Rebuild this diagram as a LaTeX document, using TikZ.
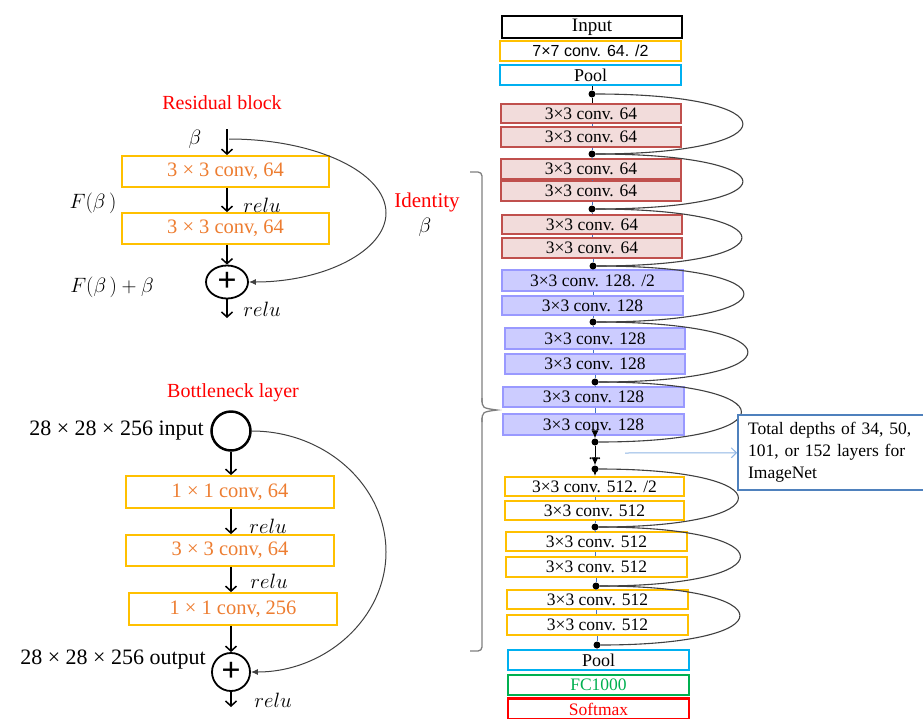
\documentclass[tikz,border=0pt]{standalone}
\usepackage{fontspec}
\setmainfont{Liberation Serif}
\newfontfamily\arialf{Liberation Sans}
\usetikzlibrary{arrows.meta,shapes.geometric}
\definecolor{ybox}{HTML}{FFC000}
\definecolor{otext}{HTML}{ED7D31}
\definecolor{cyanb}{HTML}{00B0F0}
\definecolor{redB}{HTML}{C0504D}
\definecolor{redF}{HTML}{F2DCDB}
\definecolor{blueB}{HTML}{9999FF}
\definecolor{blueF}{HTML}{CCCCFF}
\definecolor{greenb}{HTML}{00B050}
\definecolor{tboxb}{HTML}{4F81BD}
\definecolor{lblue}{HTML}{8EB4E3}
\definecolor{connb}{HTML}{4472C4}
\definecolor{skipc}{HTML}{404040}
\definecolor{bracec}{HTML}{7F7F7F}
\begin{document}
\begin{tikzpicture}[x=1pt,y=-1pt,
  rcol/.style={draw, minimum width=180, minimum height=20, inner sep=0, line width=2.2, font=\fontsize{17.5}{20}\selectfont},
  redb/.style={rcol, draw=redB, fill=redF},
  blueb/.style={rcol, draw=blueB, fill=blueF},
  yelb/.style={rcol, draw=ybox, fill=white},
  lbox/.style={draw=ybox, line width=1.8, text=otext, inner sep=0, minimum width=207, minimum height=31, font=\fontsize{20.5}{24}\selectfont},
  ttl/.style={text=red, inner sep=0, font=\fontsize{20}{24}\selectfont},
  lbl/.style={inner sep=0, font=\fontsize{20}{24}\selectfont},
  arr/.style={line width=1.5, -{Straight Barb[length=5pt,width=11pt,line width=1.5pt]}},
  skip/.style={draw=skipc, line width=1, -{Latex[length=7pt,width=6pt]}},
  rskip/.style={draw=skipc, line width=1.1},
  dotn/.style={circle, fill=black, inner sep=0, minimum size=7},
  conn/.style={draw=connb, line width=0.6},
  sarr/.style={line width=1, -{Latex[length=8pt,width=7pt]}},
  plusn/.style={draw, line width=1.8, inner sep=0, font=\fontsize{34}{34}\selectfont\bfseries}
]
\useasboundingbox (0,0) rectangle (923,718);

% ---------------- Residual block ----------------
\node[ttl] (t1) at (222,103) {Residual block};
\node[lbl] (beta1) at (195,139) {$\beta$};
\coordinate (in1) at (227,129);
\node[lbox] (a1) at (225.5,171.5) {3 × 3 conv, 64};
\node[lbox] (a2) at (225.5,228.5) {3 × 3 conv, 64};
\node[plusn, ellipse, minimum width=42, minimum height=33] (p1) at (227,282) {+};
\coordinate (out1) at (227,318);
\draw[arr] (in1) -- (in1 |- a1.north);
\draw[arr] (a1.south -| in1) -- (a2.north -| in1);
\draw[arr] (a2.south -| in1) -- (p1.north);
\draw[arr] (p1.south) -- (out1);
\node[lbl] (r1l) at (262,205) {$relu$};
\node[lbl] (r2l) at (262,309) {$relu$};
\node[lbl] (fb) at (93,203) {$F(\beta\,)$};
\node[lbl] (fbb) at (112,287) {$F(\beta\,)+\beta$};
\coordinate (s1) at (229,139);
\coordinate (m1) at (386,213);
\draw[skip] (s1) .. controls +(86,0) and +(0,-41) .. (m1) .. controls +(0,38) and +(75,0) .. (p1.east);
\node[ttl, font=\fontsize{21}{24}\selectfont] (ident) at (427,202) {Identity};
\node[lbl] (identb) at (425,227) {$\beta$};

% ---------------- Bottleneck ----------------
\node[ttl] (t2) at (233,393) {Bottleneck layer};
\node[draw, circle, line width=2.5, minimum size=39, inner sep=0] (c2) at (231,431) {};
\node[lbl, anchor=east, font=\fontsize{22}{24}\selectfont] (inl) at (204,431) {28 × 28 × 256 input};
\node[lbox, minimum width=208, minimum height=32] (b1) at (230,492) {1 × 1 conv, 64};
\node[lbox, minimum width=208, minimum height=31] (b2) at (230,550.5) {3 × 3 conv, 64};
\node[lbox, minimum width=208, minimum height=32] (b3) at (233,609) {1 × 1 conv, 256};
\node[plusn, circle, minimum size=38] (p2) at (231,672) {+};
\node[lbl, anchor=east, font=\fontsize{22}{24}\selectfont] (outl) at (206,660) {28 × 28 × 256 output};
\coordinate (out2) at (231,707);
\draw[arr] (c2.south) -- (c2.south |- b1.north);
\draw[arr] (b1.south -| c2) -- (b2.north -| c2);
\draw[arr] (b2.south -| c2) -- (b3.north -| c2);
\draw[arr] (b3.south -| c2) -- (p2.north);
\draw[arr] (p2.south) -- (out2);
\node[lbl] (r3l) at (268,526) {$relu$};
\node[lbl] (r4l) at (269,581) {$relu$};
\node[lbl] (r5l) at (273,700) {$relu$};
\coordinate (m2) at (386,552);
\draw[skip] (c2.east) .. controls +(74,0) and +(0,-66) .. (m2) .. controls +(0,66) and +(75,0) .. (p2.east);

% ---------------- Brace ----------------
\draw[bracec, line width=1.3, rounded corners=4] (470,172) -- (482,172) -- (482,402);
\draw[bracec, line width=1.3] (482,398) .. controls (482,408) .. (497,410) .. controls (482,412) .. (482,422);
\draw[bracec, line width=1.3, rounded corners=4] (482,418) -- (482,651) -- (470,651);

% ---------------- ResNet column ----------------
\node[rcol, line width=2.8, minimum width=180, minimum height=22, font=\fontsize{19}{20}\selectfont] (inp) at (592,27) {Input};
\node[yelb, minimum width=181, font=\arialf\fontsize{16}{20}\selectfont] (c7) at (590.5,51) {7×7 conv. 64. /2};
\node[rcol, draw=cyanb, minimum width=181, font=\fontsize{18}{20}\selectfont] (pool1) at (590.5,75) {Pool};

\node[redb, minimum height=19] (q1) at (591,113.5) {3×3 conv. 64};
\node[redb] (q2) at (591,137) {3×3 conv. 64};
\node[redb] (q3) at (591,169) {3×3 conv. 64};
\node[redb] (q4) at (591,191) {3×3 conv. 64};
\node[redb, minimum height=19] (q5) at (592,224.5) {3×3 conv. 64};
\node[redb] (q6) at (592,248) {3×3 conv. 64};

\node[blueb, minimum width=181, minimum height=21] (u1) at (592.5,280.5) {3×3 conv. 128. /2};
\node[blueb, minimum width=181, minimum height=19] (u2) at (592.5,305.5) {3×3 conv. 128};
\node[blueb, minimum height=21] (u3) at (595,338.5) {3×3 conv. 128};
\node[blueb] (u4) at (595,364) {3×3 conv. 128};
\node[blueb, minimum width=181] (u5) at (593.5,397) {3×3 conv. 128};
\node[blueb, minimum width=181, minimum height=21] (u6) at (593.5,424.5) {3×3 conv. 128};

\node[yelb, minimum width=179, minimum height=19] (o1) at (594.5,486.5) {3×3 conv. 512. /2};
\node[yelb, minimum width=179, minimum height=19] (o2) at (594.5,510.5) {3×3 conv. 512};
\node[yelb, minimum width=181, minimum height=19] (o3) at (596.5,541.5) {3×3 conv. 512};
\node[yelb, minimum width=181] (o4) at (596.5,567) {3×3 conv. 512};
\node[yelb, minimum width=181, minimum height=19] (o5) at (597.5,599.5) {3×3 conv. 512};
\node[yelb, minimum width=181] (o6) at (597.5,625) {3×3 conv. 512};

\node[rcol, draw=cyanb, minimum width=181, font=\fontsize{18}{20}\selectfont] (pool2) at (598.5,660) {Pool};
\node[rcol, draw=greenb, text=greenb, minimum width=181] (fc) at (598.5,685) {FC1000};
\node[rcol, draw=red, text=red, minimum width=181, minimum height=21, font=\fontsize{17.5}{20}\selectfont] (sm) at (598.5,709) {Softmax};

% dots
\node[dotn] (d0) at (592,94) {};
\node[dotn] (d1) at (592,154) {};
\node[dotn] (d2) at (592,209) {};
\node[dotn] (d3) at (593,266) {};
\node[dotn] (d4) at (593,322) {};
\node[dotn] (d5) at (595,382) {};
\node[dotn] (d6) at (595,442) {};
\node[dotn] (d7) at (595,469) {};
\node[dotn] (d8) at (595,527) {};
\node[dotn] (d9) at (596,586) {};
\node[dotn] (d10) at (597,645) {};
\node[inner sep=0.5, fill=white, anchor=base, font=\fontsize{17}{17}\selectfont] (ell) at (595,459) {...};

% vertical connectors
\draw[line width=1] (pool1.south -| d0) -- (d0) -- (d0 |- q1.north);
\draw[conn] (q1.south -| d0) -- (q2.north -| d0);
\draw[conn] (q2.south -| d1) -- (d1) -- (d1 |- q3.north);
\draw[conn] (q3.south -| d1) -- (q4.north -| d1);
\draw[conn] (q4.south -| d2) -- (d2) -- (d2 |- q5.north);
\draw[conn] (q5.south -| d2) -- (q6.north -| d2);
\draw[conn] (q6.south -| d3) -- (d3) -- (d3 |- u1.north);
\draw[conn] (u1.south -| d3) -- (u2.north -| d3);
\draw[conn] (u2.south -| d4) -- (d4) -- (d4 |- u3.north);
\draw[conn] (u3.south -| d4) -- (u4.north -| d4);
\draw[conn] (u4.south -| d5) -- (d5) -- (d5 |- u5.north);
\draw[conn] (u5.south -| d5) -- (u6.north -| d5);
\draw[sarr] (u6.south -| d6) -- (d6);
\draw[line width=1] (d6) -- (ell.north);
\draw[sarr] (ell.south) -- (d7);
\draw[sarr] (d7) -- (d7 |- o1.north);
\draw[conn] (o1.south -| d8) -- (o2.north -| d8);
\draw[conn] (o2.south -| d8) -- (d8) -- (d8 |- o3.north);
\draw[conn] (o3.south -| d8) -- (o4.north -| d8);
\draw[conn] (o4.south -| d9) -- (d9) -- (d9 |- o5.north);
\draw[conn] (o5.south -| d9) -- (o6.north -| d9);
\draw[conn] (o6.south -| d10) -- (d10) -- (d10 |- pool2.north);

% skip curves
\draw[rskip] (d0) .. controls +(200,0) and +(200,0) .. (d1);
\draw[rskip] (d1) .. controls +(200,0) and +(200,0) .. (d2);
\draw[rskip] (d2) .. controls +(198,0) and +(198,0) .. (d3);
\draw[rskip] (d3) .. controls +(200,0) and +(200,0) .. (d4);
\draw[rskip] (d4) .. controls +(204,0) and +(204,0) .. (d5);
\draw[rskip] (d5) .. controls +(194,0) and +(194,0) .. (d6);
\draw[rskip] (d7) .. controls +(190,0) and +(190,0) .. (d8);
\draw[rskip] (d8) .. controls +(192,0) and +(192,0) .. (d9);
\draw[rskip] (d9) .. controls +(190,0) and +(190,0) .. (d10);

% text box
\node[draw=tboxb, line width=2.2, fill=white, anchor=west, minimum height=75, text width=185, inner xsep=10, inner ysep=0, align=left, font=\fontsize{17.5}{22}\selectfont] (tb) at (737,452.5) {Total depths of 34, 50,\\101, or 152 layers for\\ImageNet};
\coordinate (ta) at (625,453);
\draw[lblue, line width=1, -{Straight Barb[length=5pt,width=10pt]}] (ta) -- (tb);
\end{tikzpicture}
\end{document}
